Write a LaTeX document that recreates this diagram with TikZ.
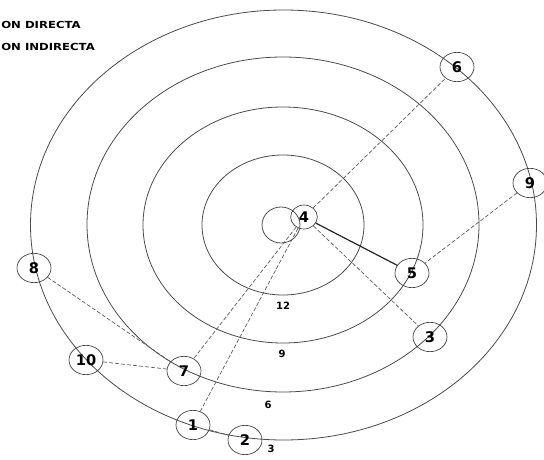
\documentclass[tikz,border=0pt]{standalone}
\usepackage{fontspec}
\setmainfont{Liberation Sans}
\newfontfamily\heavyfont{DejaVu Sans}
\usetikzlibrary{shapes.geometric}
\begin{document}
\begin{tikzpicture}[x=0.75pt,y=-0.75pt,
  ring/.style={draw=black!70, line width=0.6pt},
  nd/.style={ellipse, draw=black!75, line width=0.5pt, minimum width=25.5pt, minimum height=22pt, inner sep=0pt, font=\heavyfont\fontsize{11}{11}\selectfont\bfseries},
  ndsmall/.style={nd, minimum width=20pt, minimum height=18pt},
  link/.style={draw=black!65, dashed, dash pattern=on 3pt off 1.5pt, line width=0.5pt},
  direct/.style={draw=black!85, line width=0.9pt},
  lvl/.style={font=\heavyfont\fontsize{7.5}{7.5}\selectfont\bfseries, inner sep=0pt},
  legend/.style={font=\heavyfont\fontsize{7.3}{7.3}\selectfont\bfseries, inner sep=0pt, anchor=west}]
\useasboundingbox (0,0) rectangle (544,460);
\fill[white] (0,0) rectangle (544,460);
% rings
\draw[ring] (283.5,225) ellipse [x radius=253, y radius=215];
\draw[ring] (283,224.5) ellipse [x radius=196, y radius=167.5];
\draw[ring] (283,225) ellipse [x radius=140, y radius=118];
\draw[ring] (283,225) ellipse [x radius=81, y radius=70];
\draw[ring] (281,225) ellipse [x radius=19, y radius=18];
% legend
\node[legend] (l1) at (1,25) {\scalebox{1.2}[1]{ON DIRECTA}};
\node[legend] (l2) at (1,47) {\scalebox{1.2}[1]{ON INDIRECTA}};
% level labels
\node[lvl] (v12) at (283,306) {12};
\node[lvl] (v9) at (282,354) {9};
\node[lvl] (v6) at (268,405) {6};
\node[lvl] (v3) at (271,449) {3};
% nodes
\node[ndsmall] (n4) at (304,217) {4};
\node[nd] (n6) at (457,67) {6};
\node[nd] (n9) at (530,183) {9};
\node[nd] (n5) at (412,273) {5};
\node[nd] (n3) at (430,337) {3};
\node[nd] (n8) at (34,268) {8};
\node[nd] (n10) at (86,360) {10};
\node[nd] (n7) at (184,371) {7};
\node[nd] (n1) at (193,425) {1};
\node[nd] (n2) at (245,440) {2};
% connectors
\draw[direct] (n4) -- (n5);
\draw[link] (n4) -- (n6);
\draw[link] (n4) -- (n3);
\draw[link] (n4) -- (n7);
\draw[link] (n4) -- (n1);
\draw[link] (n9) -- (n5);
\draw[link] (n8) -- (n7);
\draw[link] (n10) -- (n7);
\draw[link] (n1) -- (n2);
\end{tikzpicture}
\end{document}
